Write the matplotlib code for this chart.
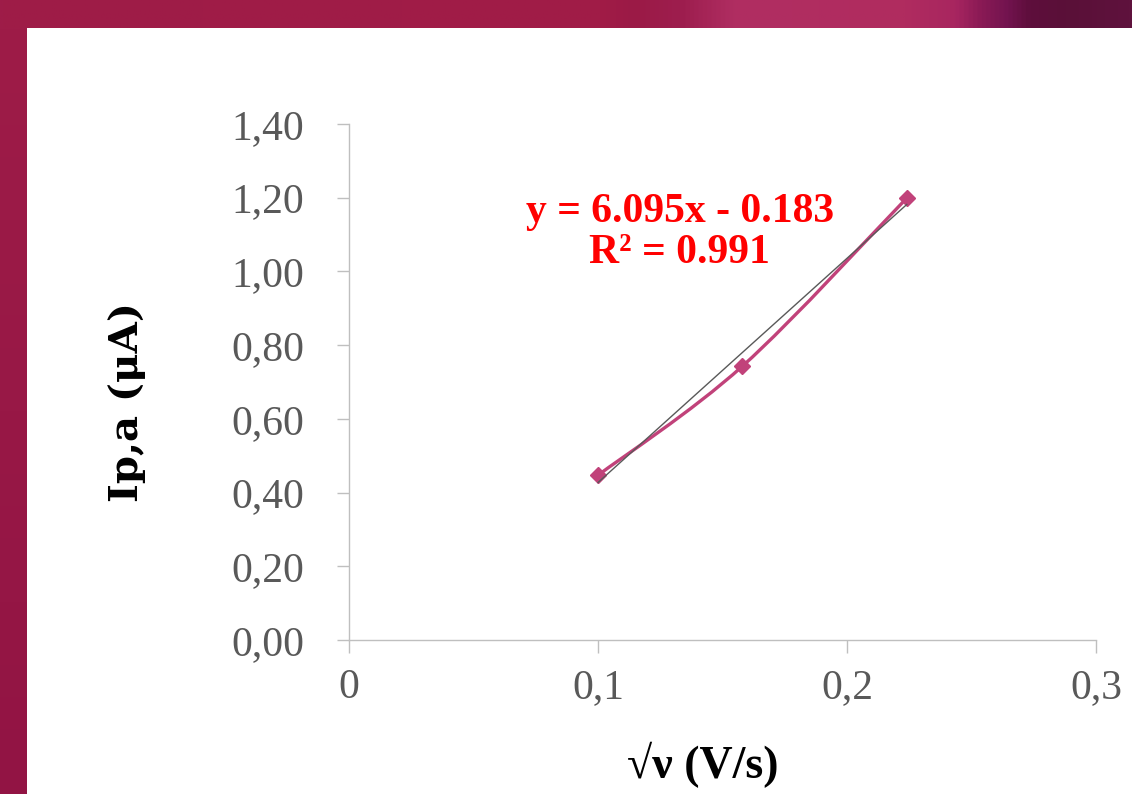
import matplotlib.pyplot as plt
import numpy as np
from matplotlib.colors import LinearSegmentedColormap
from matplotlib.path import Path
from matplotlib.patches import PathPatch

# sqrt of scan rate (V/s) and anodic peak current (uA)
sqrt_v = [0.100, 0.158, 0.224]
ip_a = [0.447, 0.743, 1.199]

x_ticks = [0, 0.1, 0.2, 0.3]
x_tick_labels = ['0', '0,1', '0,2', '0,3']
y_ticks = [0.0, 0.2, 0.4, 0.6, 0.8, 1.0, 1.2, 1.4]
y_tick_labels = ['0,00', '0,20', '0,40', '0,60', '0,80', '1,00', '1,20', '1,40']

eq_line1 = 'y = 6.095x - 0.183'
eq_line2 = 'R² = 0.991'

W, H = 1132, 794
fig = plt.figure(figsize=(W / 100, H / 100), dpi=100, facecolor='white')

# slide background: top bar and left bar
bg = fig.add_axes([0, 0, 1, 1])
bg.axis('off')
top_cmap = LinearSegmentedColormap.from_list('top', [
    (0.0, '#9e1c48'), (0.53, '#a11c47'), (0.56, '#9b1a46'), (0.605, '#9e1e4f'),
    (0.65, '#b02e62'), (0.80, '#b02c5f'), (0.845, '#a82660'), (0.868, '#8a1a55'),
    (0.89, '#741450'), (0.911, '#5e0e3c'), (0.943, '#5a1038'), (1.0, '#5f123d')])
left_cmap = LinearSegmentedColormap.from_list('left', ['#9e1c48', '#921444'])
bg.imshow(np.linspace(0, 1, 512)[None, :], cmap=top_cmap, aspect='auto',
          extent=[0, W, 28, 0])
bg.imshow(np.linspace(0, 1, 256)[:, None], cmap=left_cmap, aspect='auto',
          extent=[0, 27, H, 28])
bg.set_xlim(0, W)
bg.set_ylim(H, 0)

ax = fig.add_axes([349 / W, 1 - 640 / H, 747 / W, 516 / H])
ax.set_facecolor('none')

# smoothed line through the points (catmull-rom as cubic bezier)
pts = np.column_stack([sqrt_v, ip_a])
ext = np.vstack([pts[0], pts, pts[-1]])
verts = [tuple(pts[0])]
codes = [Path.MOVETO]
for i in range(len(pts) - 1):
    p0, p1, p2, p3 = ext[i], ext[i + 1], ext[i + 2], ext[i + 3]
    c1 = p1 + (p2 - p0) / 6
    c2 = p2 - (p3 - p1) / 6
    verts += [tuple(c1), tuple(c2), tuple(p2)]
    codes += [Path.CURVE4] * 3
ax.add_patch(PathPatch(Path(verts, codes), facecolor='none', edgecolor='#c1427a',
                       lw=2.4, zorder=3, capstyle='round'))
ax.plot(sqrt_v, ip_a, linestyle='none', marker='D', markersize=8,
        color='#c1427a', zorder=4)

# linear trendline
coef = np.polyfit(sqrt_v, ip_a, 1)
xt = np.array([min(sqrt_v), max(sqrt_v)])
ax.plot(xt, np.polyval(coef, xt), color='#595959', lw=1, zorder=5)

ax.text(0.443, 0.810, eq_line1, transform=ax.transAxes, ha='center', va='baseline',
        color='#ff0000', fontsize=30, fontweight='bold', family='Liberation Serif')
ax.text(0.443, 0.7306, eq_line2, transform=ax.transAxes, ha='center', va='baseline',
        color='#ff0000', fontsize=30, fontweight='bold', family='Liberation Serif')

ax.set_xlim(0, 0.3)
ax.set_ylim(0, 1.4)
ax.set_xticks(x_ticks)
ax.set_xticklabels(x_tick_labels)
ax.set_yticks(y_ticks)
ax.set_yticklabels(y_tick_labels)

for s in ['top', 'right']:
    ax.spines[s].set_visible(False)
for s in ['left', 'bottom']:
    ax.spines[s].set_color('#bfbfbf')
    ax.spines[s].set_linewidth(1)

ax.tick_params(axis='y', direction='out', length=9, width=1, color='#bfbfbf',
               pad=23, labelsize=30, labelcolor='#595959')
ax.tick_params(axis='x', direction='out', length=9.5, width=1, color='#bfbfbf',
               pad=11, labelsize=30, labelcolor='#595959')
for lab in ax.get_xticklabels() + ax.get_yticklabels():
    lab.set_family('Liberation Serif')

ax.set_xlabel('√ν (V/s)', fontsize=33, fontweight='bold', family='Liberation Serif')
ax.xaxis.set_label_coords((703 - 349) / 747, (640 - 765) / 516)
ax.xaxis.label.set_va('center')
ax.set_ylabel('Ip,a (μA)', fontsize=29, fontweight='bold', family='DejaVu Serif')
ax.yaxis.set_label_coords((127 - 349) / 747, (640 - 402) / 516)
ax.yaxis.label.set_va('center')

plt.savefig('out.png', dpi=100, facecolor='white')
